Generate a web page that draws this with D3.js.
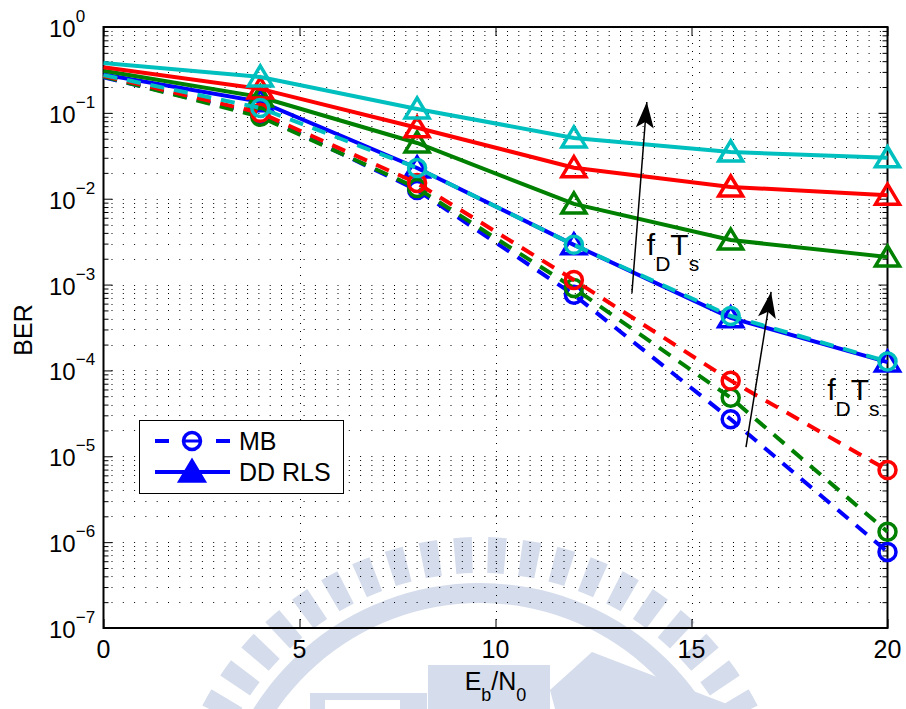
<!DOCTYPE html>
<html>
<head>
<meta charset="utf-8">
<script src="https://cdn.jsdelivr.net/npm/d3@7"></script>
<style>
  body { margin: 0; background: #fff; }
  svg { font-family: Arial, "Liberation Sans", Helvetica, sans-serif; }
</style>
</head>
<body>
<div id="chart"></div>
<script>
// Eb/N0 points (dB)
var snr = [0, 4, 8, 12, 16, 20];

// MB (dashed, circles)
var mbBlue  = [0.26, 0.095, 0.0126, 7.6e-4, 2.7e-5, 7.7e-7];
var mbGreen = [0.265, 0.09, 0.0133, 9.1e-4, 4.8e-5, 1.32e-6];
var mbRed   = [0.27, 0.1, 0.0152, 1.13e-3, 7.6e-5, 6.9e-6];
var mbCyan  = [0.275, 0.114, 0.0228, 2.9e-3, 4.3e-4, 1.27e-4];

// DD RLS (solid, triangles)
var rlsBlue  = [0.28, 0.135, 0.0228, 2.9e-3, 4.1e-4, 1.25e-4];
var rlsGreen = [0.31, 0.153, 0.0446, 8.7e-3, 3.3e-3, 2.1e-3];
var rlsRed   = [0.34, 0.19, 0.067, 0.023, 0.0137, 0.011];
var rlsCyan  = [0.38, 0.262, 0.111, 0.051, 0.035, 0.030];

var xTicks = [0, 5, 10, 15, 20];
var yDecades = [-7, -6, -5, -4, -3, -2, -1, 0];

// annotation arrows [x0, y0, x1, y1] in data units, and label anchors
var arrows = [[13.48, 8.0e-4, 13.86, 0.134], [16.39, 1.28e-5, 17.03, 8.2e-4]];
var arrowLabels = [[13.86, 2.2e-3], [18.46, 4.5e-5]];

var W = 906, H = 709;
var x = d3.scaleLinear().domain([0, 20]).range([103.5, 887.5]);
var y = d3.scaleLog().domain([1e-7, 1]).range([628, 27]);

var svg = d3.select("#chart").append("svg")
    .attr("width", W).attr("height", H);

// faint watermark behind everything
var wm = svg.append("g").attr("fill", "rgb(213,220,236)");
var cx = 480, cy = 850;
for (var a = 190; a <= 350; a += 6.4) {
  wm.append("path")
    .attr("d", d3.arc()({innerRadius: 277, outerRadius: 313,
      startAngle: (a + 90 - 1.7) * Math.PI / 180, endAngle: (a + 90 + 1.7) * Math.PI / 180}))
    .attr("transform", "translate(" + cx + "," + cy + ")");
}
wm.append("path")
  .attr("d", d3.arc()({innerRadius: 247, outerRadius: 267, startAngle: -Math.PI / 2 - 0.6, endAngle: Math.PI / 2 + 0.6}))
  .attr("transform", "translate(" + cx + "," + cy + ")");
wm.append("rect").attr("x", 428).attr("y", 665).attr("width", 122).attr("height", 44);
wm.append("path").attr("d", "M550,690L592,652L740,709L555,709Z");
wm.append("path").attr("d", "M310,693H427V709H310Z");
wm.append("rect").attr("x", 325).attr("y", 700).attr("width", 75).attr("height", 9).attr("fill", "#fff");

// grid
var grid = svg.append("g").attr("stroke", "#000").attr("stroke-width", 1)
    .attr("stroke-dasharray", "1,10.3");
var yGrid = y.ticks().filter(function(d) { return d < 1 && d > 1e-7; });
grid.selectAll(".hg").data(yGrid).enter().append("line")
    .attr("x1", x(0) + 8).attr("x2", x(20))
    .attr("y1", function(d) { return Math.round(y(d)) + 0.5; })
    .attr("y2", function(d) { return Math.round(y(d)) + 0.5; });
grid.selectAll(".vg").data([5, 10, 15]).enter().append("line")
    .attr("y1", y(1)).attr("y2", y(1e-7))
    .attr("stroke-dasharray", "1,7")
    .attr("x1", function(d) { return Math.round(x(d)) + 0.5; })
    .attr("x2", function(d) { return Math.round(x(d)) + 0.5; });

// axes (ticks inward, on all four sides)
var yMinor = y.ticks().filter(function(d) {
  return Math.abs(Math.log10(d) - Math.round(Math.log10(d))) > 1e-6;
});
var yMajor = yDecades.map(function(e) { return Math.pow(10, e); });

function clean(g) { g.select(".domain").remove(); g.selectAll("text").remove(); }

svg.append("g").attr("transform", "translate(" + x(0) + ",0)")
  .call(d3.axisRight(y).tickValues(yMajor).tickSize(9).tickFormat("")).call(clean);
svg.append("g").attr("transform", "translate(" + x(0) + ",0)")
  .call(d3.axisRight(y).tickValues(yMinor).tickSize(5).tickFormat("")).call(clean);
svg.append("g").attr("transform", "translate(" + x(20) + ",0)")
  .call(d3.axisLeft(y).tickValues(yMajor).tickSize(9).tickFormat("")).call(clean);
svg.append("g").attr("transform", "translate(" + x(20) + ",0)")
  .call(d3.axisLeft(y).tickValues(yMinor).tickSize(5).tickFormat("")).call(clean);
svg.append("g").attr("transform", "translate(0," + y(1e-7) + ")")
  .call(d3.axisTop(x).tickValues(xTicks).tickSize(9).tickFormat("")).call(clean);
svg.append("g").attr("transform", "translate(0," + y(1) + ")")
  .call(d3.axisBottom(x).tickValues(xTicks).tickSize(9).tickFormat("")).call(clean);

// frame
svg.append("rect").attr("x", x(0)).attr("y", y(1))
  .attr("width", x(20) - x(0)).attr("height", y(1e-7) - y(1))
  .attr("fill", "none").attr("stroke", "#000").attr("stroke-width", 2);

// tick labels
svg.selectAll(".xl").data(xTicks).enter().append("text")
  .attr("x", function(d) { return x(d); }).attr("y", 658)
  .attr("text-anchor", "middle").attr("font-size", 25)
  .text(function(d) { return d; });

yDecades.forEach(function(e) {
  var t = svg.append("text").attr("x", 49).attr("y", y(Math.pow(10, e)) + 10)
    .attr("font-size", 24);
  t.append("tspan").text("10");
  t.append("tspan").attr("font-size", 17).attr("dy", -15)
    .text(e < 0 ? "\u2212" + (-e) : e);
});

// axis labels
var xl = svg.append("text").attr("x", (x(0) + x(20)) / 2).attr("y", 690)
  .attr("text-anchor", "middle").attr("font-size", 25);
xl.append("tspan").text("E");
xl.append("tspan").attr("font-size", 18).attr("dy", 11).text("b");
xl.append("tspan").attr("dy", -11).text("/N");
xl.append("tspan").attr("font-size", 18).attr("dy", 11).text("0");

svg.append("text").attr("transform", "translate(32," + 330 + ") rotate(-90)")
  .attr("text-anchor", "middle").attr("font-size", 25).text("BER");

// series
var series = [
  {v: mbBlue, c: "#0000ff", mb: true}, {v: rlsBlue, c: "#0000ff", mb: false},
  {v: mbGreen, c: "#008000", mb: true}, {v: rlsGreen, c: "#008000", mb: false},
  {v: mbRed, c: "#ff0000", mb: true}, {v: rlsRed, c: "#ff0000", mb: false},
  {v: mbCyan, c: "#00bfbf", mb: true}, {v: rlsCyan, c: "#00bfbf", mb: false}
];

var line = d3.line()
  .x(function(d) { return x(d[0]); })
  .y(function(d) { return y(d[1]); });

var tri = "M0,-11L12,9L-12,9Z";

series.forEach(function(s) {
  var pts = snr.map(function(d, i) { return [d, s.v[i]]; });
  var g = svg.append("g");
  g.append("path").datum(pts).attr("d", line)
    .attr("fill", "none").attr("stroke", s.c).attr("stroke-width", 4)
    .attr("stroke-dasharray", s.mb ? "14,10" : null);
  var m = pts.filter(function(d) { return d[0] > 0; });
  if (s.mb) {
    g.selectAll("circle").data(m).enter().append("circle")
      .attr("cx", function(d) { return x(d[0]); })
      .attr("cy", function(d) { return y(d[1]); })
      .attr("r", 8.5).attr("fill", "none").attr("stroke", s.c).attr("stroke-width", 3.5);
  } else {
    g.selectAll(".t").data(m).enter().append("path")
      .attr("d", tri)
      .attr("transform", function(d) { return "translate(" + x(d[0]) + "," + y(d[1]) + ")"; })
      .attr("fill", "none").attr("stroke", s.c).attr("stroke-width", 3.5)
      .attr("stroke-linejoin", "miter");
  }
});

// arrows
arrows.forEach(function(a) {
  var x0 = x(a[0]), y0 = y(a[1]), x1 = x(a[2]), y1 = y(a[3]);
  var ang = Math.atan2(y1 - y0, x1 - x0) * 180 / Math.PI;
  svg.append("line").attr("x1", x0).attr("y1", y0).attr("x2", x1).attr("y2", y1)
    .attr("stroke", "#000").attr("stroke-width", 1.5);
  svg.append("path").attr("d", "M0,0L-26,-9L-20,0L-26,9Z")
    .attr("transform", "translate(" + x1 + "," + y1 + ") rotate(" + ang + ")")
    .attr("fill", "#000");
});

arrowLabels.forEach(function(p) {
  var t = svg.append("text").attr("x", x(p[0])).attr("y", y(p[1])).attr("font-size", 30);
  t.append("tspan").text("f");
  t.append("tspan").attr("font-size", 21).attr("dy", 16).text("D");
  t.append("tspan").attr("dy", -16).text("T");
  t.append("tspan").attr("font-size", 21).attr("dy", 16).text("s");
});

// legend
var lg = svg.append("g");
lg.append("rect").attr("x", 139.5).attr("y", 420.5).attr("width", 204).attr("height", 73)
  .attr("fill", "#fff").attr("stroke", "#000").attr("stroke-width", 1);
var legendItems = [{name: "MB", mb: true, yy: 441}, {name: "DD RLS", mb: false, yy: 472}];
legendItems.forEach(function(it) {
  if (it.mb) {
    [[155, 169], [216, 230]].forEach(function(seg) {
      lg.append("line").attr("x1", seg[0]).attr("x2", seg[1]).attr("y1", it.yy).attr("y2", it.yy)
        .attr("stroke", "#0000ff").attr("stroke-width", 4);
    });
    lg.append("circle").attr("cx", 192).attr("cy", it.yy).attr("r", 8.5)
      .attr("fill", "none").attr("stroke", "#0000ff").attr("stroke-width", 3.5);
    lg.append("line").attr("x1", 185).attr("x2", 199).attr("y1", it.yy).attr("y2", it.yy)
      .attr("stroke", "#0000ff").attr("stroke-width", 3);
  } else {
    lg.append("line").attr("x1", 155).attr("x2", 230).attr("y1", it.yy).attr("y2", it.yy)
      .attr("stroke", "#0000ff").attr("stroke-width", 4);
    lg.append("path").attr("d", tri).attr("transform", "translate(192," + it.yy + ")")
      .attr("fill", "#0000ff").attr("stroke", "#0000ff").attr("stroke-width", 3.5);
  }
  lg.append("text").attr("x", 239).attr("y", it.yy + 9).attr("font-size", 25).text(it.name);
});
</script>
</body>
</html>
